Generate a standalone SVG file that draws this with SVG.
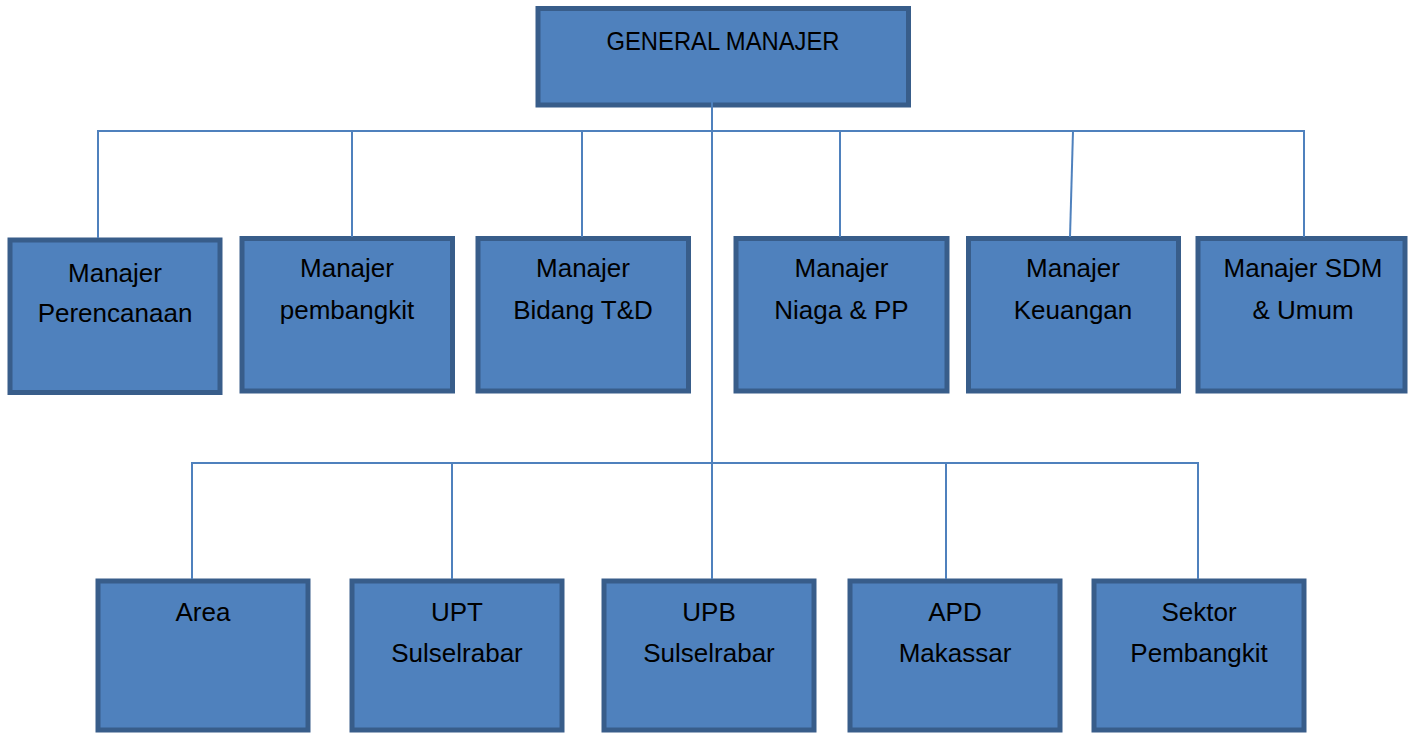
<svg xmlns="http://www.w3.org/2000/svg" width="1408" height="733" viewBox="0 0 1408 733">
<style>
.box{fill:#4F81BD;stroke:#385D8A;stroke-width:5}
.lbl{font-family:"Liberation Sans",Arial,sans-serif;font-size:26px;fill:#000;text-anchor:middle}
.con{stroke:#4F81BD;stroke-width:2;fill:none}
</style>
<rect width="1408" height="733" fill="#fff"/>
<g id="n-gm"><rect class="box" x="538" y="8.5" width="370.5" height="96.5"/><text class="lbl" x="723" y="50" textLength="233" lengthAdjust="spacingAndGlyphs">GENERAL MANAJER</text></g>
<g id="n-perencanaan"><rect class="box" x="10" y="240" width="210" height="152.5"/><text class="lbl" x="115" y="282">Manajer</text><text class="lbl" x="115" y="322">Perencanaan</text></g>
<g id="n-pembangkit"><rect class="box" x="242" y="238.5" width="210.5" height="152.5"/><text class="lbl" x="347" y="277">Manajer</text><text class="lbl" x="347" y="319">pembangkit</text></g>
<g id="n-td"><rect class="box" x="478" y="238.5" width="210.5" height="152.5"/><text class="lbl" x="583" y="277">Manajer</text><text class="lbl" x="583" y="319">Bidang T&amp;D</text></g>
<g id="n-niaga"><rect class="box" x="736" y="238.5" width="211" height="152.5"/><text class="lbl" x="841.5" y="277">Manajer</text><text class="lbl" x="841.5" y="319">Niaga &amp; PP</text></g>
<g id="n-keuangan"><rect class="box" x="968.5" y="238.5" width="210" height="152.5"/><text class="lbl" x="1073" y="277">Manajer</text><text class="lbl" x="1073" y="319">Keuangan</text></g>
<g id="n-sdm"><rect class="box" x="1198" y="238.5" width="207" height="152.5"/><text class="lbl" x="1303" y="277">Manajer SDM</text><text class="lbl" x="1303" y="319">&amp; Umum</text></g>
<g id="n-area"><rect class="box" x="98" y="581" width="210" height="149"/><text class="lbl" x="203" y="621">Area</text></g>
<g id="n-upt"><rect class="box" x="352" y="581" width="210" height="149"/><text class="lbl" x="457" y="621">UPT</text><text class="lbl" x="457" y="662">Sulselrabar</text></g>
<g id="n-upb"><rect class="box" x="604" y="581" width="210" height="149"/><text class="lbl" x="709" y="621">UPB</text><text class="lbl" x="709" y="662">Sulselrabar</text></g>
<g id="n-apd"><rect class="box" x="850" y="581" width="210" height="149"/><text class="lbl" x="955" y="621">APD</text><text class="lbl" x="955" y="662">Makassar</text></g>
<g id="n-sektor"><rect class="box" x="1094" y="581" width="210" height="149"/><text class="lbl" x="1199" y="621">Sektor</text><text class="lbl" x="1199" y="662">Pembangkit</text></g>
<g id="connectors">
<path class="con" d="M712 77 V579"/>
<path class="con" d="M98 238 V131 H1304 V237"/>
<path class="con" d="M352 131 V237"/>
<path class="con" d="M582 131 V237"/>
<path class="con" d="M840 131 V237"/>
<path class="con" d="M1073 131 L1070 237"/>
<path class="con" d="M192 579 V463 H1198 V579"/>
<path class="con" d="M452 463 V579"/>
<path class="con" d="M946 463 V579"/>
</g>
</svg>
